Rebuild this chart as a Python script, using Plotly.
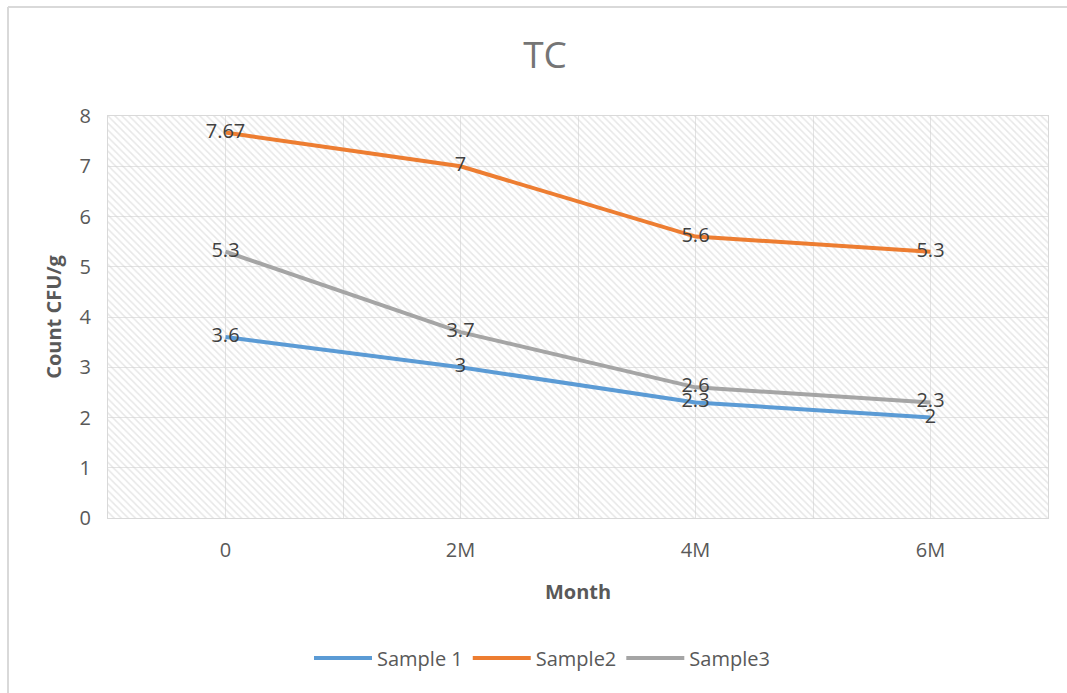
import plotly.graph_objects as go

# Sampling months and colony counts per sample
months = ["0", "2M", "4M", "6M"]
sample1 = [3.6, 3.0, 2.3, 2.0]
sample2 = [7.67, 7.0, 5.6, 5.3]
sample3 = [5.3, 3.7, 2.6, 2.3]

series = [
    ("Sample 1", sample1, "#5B9BD5"),
    ("Sample2", sample2, "#ED7D31"),
    ("Sample3", sample3, "#A5A5A5"),
]

xpos = list(range(len(months)))
x_lo, x_hi = -0.5, len(months) - 0.5
y_lo, y_hi = 0, 8

fig = go.Figure()

# hatched plot background
fig.add_trace(go.Scatter(
    x=[x_lo, x_hi, x_hi, x_lo, x_lo], y=[y_lo, y_lo, y_hi, y_hi, y_lo],
    mode="none", fill="toself", fillcolor="rgba(0,0,0,0)",
    fillpattern=dict(shape="\\", fgcolor="#d0d0d0", bgcolor="rgba(0,0,0,0)",
                     size=5, solidity=0.3, fillmode="overlay"),
    showlegend=False, hoverinfo="skip",
))

for name, vals, color in series:
    fig.add_trace(go.Scatter(
        x=xpos, y=vals, name=name, mode="lines+text",
        line=dict(color=color, width=4),
        text=[f"{v:g}" for v in vals], textposition="middle center",
        textfont=dict(family="Open Sans", size=20, color="#404040"),
    ))

W, H = 1067, 693
ml, mr, mt, mb = 108, 19, 116, 175
pw, ph = W - ml - mr, H - mt - mb

def px(xp):
    return (xp - ml) / pw

def py(yp):
    return (H - mb - yp) / ph

# chart frame (top and left edges)
fig.add_shape(type="line", xref="paper", yref="paper",
              x0=px(8), x1=px(W + 5), y0=py(7), y1=py(7),
              line=dict(color="#d9d9d9", width=2))
fig.add_shape(type="line", xref="paper", yref="paper",
              x0=px(8), x1=px(8), y0=py(7), y1=py(H + 5),
              line=dict(color="#d9d9d9", width=2))

fig.update_layout(
    width=W, height=H,
    margin=dict(l=ml, r=mr, t=mt, b=mb),
    paper_bgcolor="white", plot_bgcolor="white",
    font=dict(family="Open Sans", color="#595959", size=20),
    title=dict(text="TC", x=545 / W, xanchor="center", y=1 - 55 / H, yanchor="middle",
               font=dict(size=37, color="#757575")),
    xaxis=dict(
        range=[x_lo, x_hi], tickmode="array", tickvals=xpos, ticktext=months,
        showgrid=True, gridcolor="#e3e3e3", gridwidth=1,
        minor=dict(tickmode="array", tickvals=[i - 0.5 for i in range(len(months) + 1)],
                   showgrid=True, gridcolor="#e3e3e3", gridwidth=1, ticks=""),
        zeroline=False, showline=True, linecolor="#d9d9d9", mirror=True,
        ticks="", ticklabelstandoff=14,
        title=dict(text="<b>Month</b>", standoff=22, font=dict(size=20, color="#595959")),
    ),
    yaxis=dict(
        range=[y_lo, y_hi], dtick=1, showgrid=True, gridcolor="#e3e3e3", gridwidth=1,
        zeroline=False, showline=True, linecolor="#d9d9d9", mirror=True,
        ticks="", ticklabelstandoff=12,
        title=dict(text="<b>Count CFU/g</b>", standoff=12, font=dict(size=20, color="#595959")),
    ),
    legend=dict(orientation="h", x=px(542), xanchor="center", y=py(658), yanchor="middle",
                font=dict(size=20, color="#595959"), itemwidth=58, tracegroupgap=0),
)

fig.write_html("out.html")
